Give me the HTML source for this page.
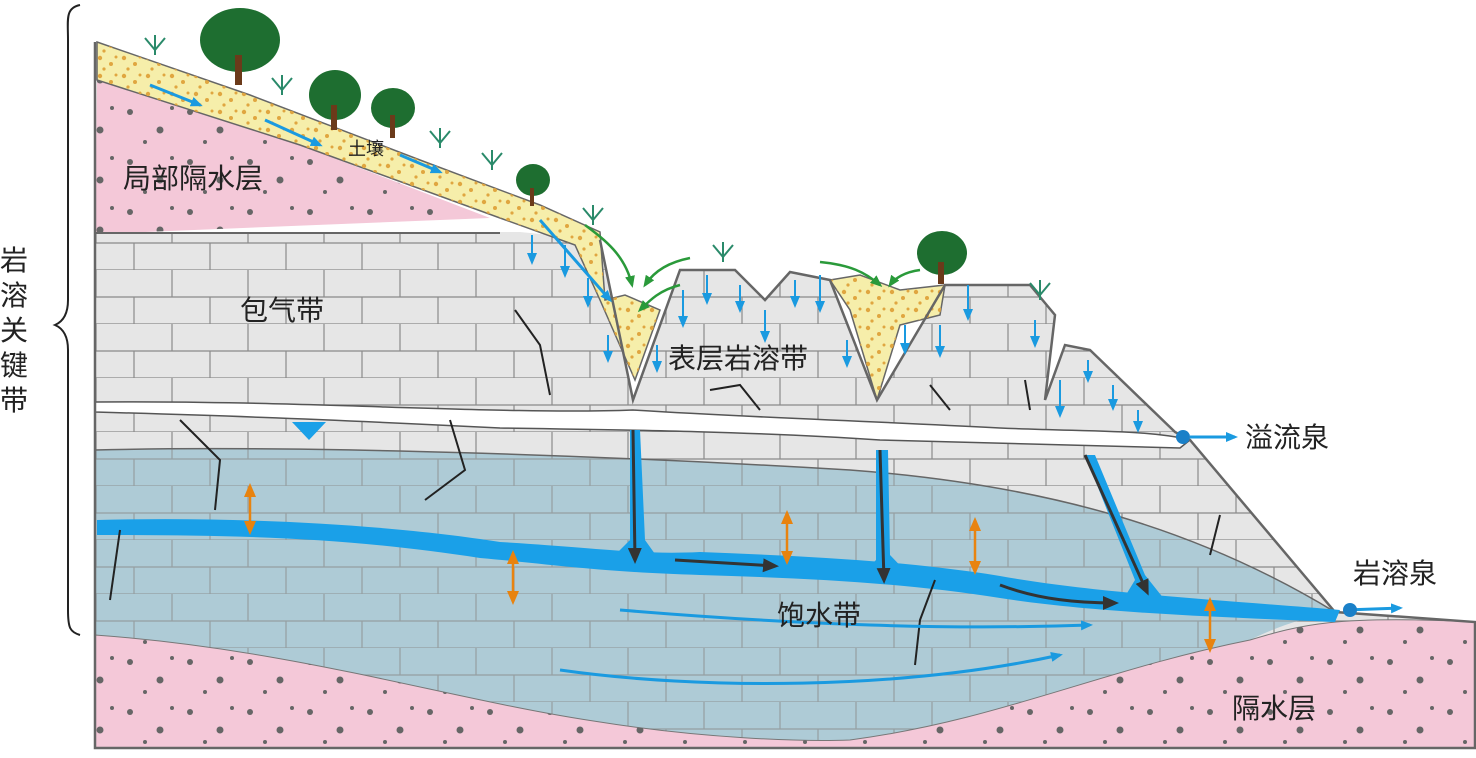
<!DOCTYPE html>
<html><head><meta charset="utf-8"><style>
html,body{margin:0;padding:0;background:#fff;}
svg{display:block}
text{font-family:"Liberation Sans","Noto Sans CJK SC",sans-serif;}
</style></head><body>
<svg width="1476" height="758" viewBox="0 0 1476 758" xmlns="http://www.w3.org/2000/svg">
<defs>
<pattern id="brk" x="0" y="0" width="76" height="54" patternUnits="userSpaceOnUse">
<path d="M0 27H76M0 54H76M20 0V27M58 27V54" stroke="#8a8a8a" stroke-width="1.2" fill="none"/>
</pattern>
<pattern id="dots" width="60" height="50" patternUnits="userSpaceOnUse">
<circle cx="10" cy="12" r="3" fill="#666"/><circle cx="40" cy="30" r="3.5" fill="#666"/><circle cx="25" cy="42" r="2" fill="#666"/><circle cx="52" cy="8" r="2" fill="#666"/>
</pattern>
<pattern id="sand" width="24" height="18" patternUnits="userSpaceOnUse">
<circle cx="4" cy="4" r="2.2" fill="#e0a640"/><circle cx="15" cy="10" r="2" fill="#e0a640"/><circle cx="8" cy="15" r="1.6" fill="#e0a640"/><circle cx="20" cy="3" r="1.5" fill="#e0a640"/>
</pattern>
<marker id="ab" markerWidth="12" markerHeight="10" refX="9" refY="5" orient="auto" markerUnits="userSpaceOnUse"><path d="M0,0L12,5L0,10z" fill="#1a9ae0"/></marker>
<marker id="ag" markerWidth="12" markerHeight="10" refX="9" refY="5" orient="auto" markerUnits="userSpaceOnUse"><path d="M0,0L12,5L0,10z" fill="#2a9a3a"/></marker>
<marker id="ak" markerWidth="16" markerHeight="14" refX="12" refY="7" orient="auto" markerUnits="userSpaceOnUse"><path d="M0,0L16,7L0,14z" fill="#333"/></marker>
<marker id="ao" markerWidth="14" markerHeight="12" refX="11" refY="6" orient="auto-start-reverse" markerUnits="userSpaceOnUse"><path d="M0,0L14,6L0,12z" fill="#e8830f"/></marker>
</defs>
<path d="M95 232 L520 232 L600 240 L633 400 L680 270 L735 270 L765 300 L790 272 L830 280 L877 400 L945 285 L1030 285 L1055 315 L1045 400 L1065 345 L1090 350 L1175 432 L1190 440 L1335 612 L1475 622 L1475 748 L95 748 Z" fill="#e6e6e6"/>
<path d="M95 232 L520 232 L600 240 L633 400 L680 270 L735 270 L765 300 L790 272 L830 280 L877 400 L945 285 L1030 285 L1055 315 L1045 400 L1065 345 L1090 350 L1175 432 L1190 440 L1335 612 L1475 622 L1475 748 L95 748 Z" fill="url(#brk)"/>
<path d="M95 450 C300 445 600 455 850 470 C1050 485 1200 530 1335 612 C1300 618 1270 630 1250 640 C1100 670 1000 720 850 740 C800 742 700 738 600 722 C450 700 300 650 95 635 Z" fill="#aecbd6"/>
<path d="M95 450 C300 445 600 455 850 470 C1050 485 1200 530 1335 612 C1300 618 1270 630 1250 640 C1100 670 1000 720 850 740 C800 742 700 738 600 722 C450 700 300 650 95 635 Z" fill="url(#brk)" opacity="0.7"/>
<path d="M95 450 C300 445 600 455 850 470 C1050 485 1200 530 1335 612" fill="none" stroke="#666" stroke-width="1.5"/>
<path d="M95 635 C300 650 450 700 600 722 C700 738 800 742 850 740 C1000 720 1100 670 1250 640 C1300 625 1335 615 1475 622 L1475 748 L95 748 Z" fill="#f4c8d8" stroke="#777" stroke-width="1"/>
<path d="M95 635 C300 650 450 700 600 722 C700 738 800 742 850 740 C1000 720 1100 670 1250 640 C1300 625 1335 615 1475 622 L1475 748 L95 748 Z" fill="url(#dots)"/>
<path d="M97 80 L300 145 L490 218 L95 234 Z" fill="#f4c8d8"/>
<path d="M97 80 L300 145 L490 218 L95 234 Z" fill="url(#dots)"/>
<path d="M97 42 L250 95 L420 160 L540 205 L600 232 L605 300 L625 295 L660 310 L635 380 L600 300 L575 245 L500 218 L300 145 L97 80 Z" fill="#f6eeaa" stroke="#666" stroke-width="1.5"/>
<path d="M97 42 L250 95 L420 160 L540 205 L600 232 L605 300 L625 295 L660 310 L635 380 L600 300 L575 245 L500 218 L300 145 L97 80 Z" fill="url(#sand)"/>
<path d="M830 280 L860 275 L900 290 L945 285 L940 315 L900 325 L877 400 L850 310 Z" fill="#f6eeaa" stroke="#666" stroke-width="1.5"/>
<path d="M830 280 L860 275 L900 290 L945 285 L940 315 L900 325 L877 400 L850 310 Z" fill="url(#sand)"/>
<path d="M95 402 C300 400 500 415 633 410 C760 418 850 420 1000 428 C1100 432 1150 430 1190 440 L1180 448 C1100 445 1000 443 880 440 C760 432 640 430 500 428 C300 418 200 415 95 412 Z" fill="#fff" stroke="#555" stroke-width="1.5"/>
<path d="M95 42 V748 H1475 V622 L1335 612 L1190 440 L1175 432 L1090 350 L1065 345 L1045 400 L1055 315 L1030 285 L945 285 L877 400 L830 280 L790 272 L765 300 L735 270 L680 270 L633 400 L600 240" fill="none" stroke="#666" stroke-width="2.5"/>
<path d="M95 233 H500" stroke="#666" stroke-width="2"/>
<path d="M97 520 C250 516 400 526 500 542 C600 548 640 555 700 552 C800 556 900 560 1000 576 C1100 594 1250 602 1340 610 L1335 622 C1250 618 1100 614 1000 598 C900 582 800 578 700 575 C600 572 550 564 480 558 C350 538 250 535 97 535 Z" fill="#1aa0e8"/>
<path d="M630 430 L630 540 L605 565 L665 568 L645 540 L640 430Z M876 450 L876 560 L858 578 L912 578 L890 555 L888 450Z M1085 455 L1135 580 L1118 608 L1168 604 L1145 575 L1095 455Z" fill="#1aa0e8"/>
<g stroke="#333" stroke-width="3" fill="none" marker-end="url(#ak)">
<path d="M633 430 L635 560"/><path d="M880 450 L884 580"/><path d="M1085 455 L1147 592"/>
<path d="M675 560 L775 566"/><path d="M1000 585 C1040 600 1080 603 1115 603"/>
</g>
<g stroke="#222" stroke-width="2" fill="none">
<path d="M180 420 L220 460 L215 510"/><path d="M450 420 L465 470 L425 500"/><path d="M515 310 L540 345 L550 395"/>
<path d="M120 530 L110 600"/><path d="M710 390 L740 385 L760 410"/><path d="M930 385 L950 410"/>
<path d="M935 580 L920 620 L915 665"/><path d="M1025 380 L1030 410"/><path d="M1220 515 L1210 555"/>
</g>
<g stroke="#1a9ae0" stroke-width="3" fill="none" marker-end="url(#ab)">
<path d="M620 610 C800 625 950 630 1090 625"/><path d="M560 670 C700 690 900 690 1060 655"/>
<path d="M150 85 L200 105"/><path d="M265 120 L320 145"/><path d="M400 155 L440 172"/><path d="M540 220 L610 300"/>
<path d="M1190 437 L1235 437"/><path d="M1345 610 L1400 608"/>
</g>
<g stroke="#1a9ae0" stroke-width="2" fill="none" marker-end="url(#ab)">
<path d="M532 235V262"/><path d="M565 245V275"/><path d="M588 278V305"/><path d="M608 335V360"/><path d="M657 345V370"/>
<path d="M683 290V325"/><path d="M707 275V302"/><path d="M740 285V310"/><path d="M765 310V340"/><path d="M795 280V305"/><path d="M820 275V310"/><path d="M847 340V365"/>
<path d="M905 325V352"/><path d="M940 325V355"/><path d="M968 285V318"/><path d="M1035 320V345"/><path d="M1060 380V415"/><path d="M1088 360V380"/><path d="M1113 385V408"/><path d="M1138 410V430"/>
</g>
<g stroke="#2a9a3a" stroke-width="2.5" fill="none" marker-end="url(#ag)">
<path d="M585 225 C605 240 625 255 632 285"/><path d="M690 258 C670 262 655 270 645 285"/><path d="M680 285 C660 290 650 300 640 310"/>
<path d="M820 262 C850 265 865 272 880 285"/><path d="M920 270 C905 272 895 278 890 285"/>
</g>
<g stroke="#e8830f" stroke-width="2.5" fill="none" marker-end="url(#ao)" marker-start="url(#ao)">
<path d="M250 486 V532"/><path d="M513 553V602"/><path d="M787 513V562"/><path d="M975 520V572"/><path d="M1210 600V650"/>
</g>
<polygon points="292,422 326,422 309,440" fill="#1aa0e8"/>
<circle cx="1183" cy="437" r="7" fill="#1a80c8"/><circle cx="1350" cy="610" r="7" fill="#1a80c8"/>
<g fill="#1e6e30">
<ellipse cx="240" cy="40" rx="40" ry="32"/><rect x="235" y="55" width="7" height="30" fill="#6b3a1a"/>
<ellipse cx="335" cy="95" rx="26" ry="25"/><rect x="331" y="105" width="6" height="25" fill="#6b3a1a"/>
<ellipse cx="393" cy="108" rx="22" ry="20"/><rect x="390" y="115" width="5" height="23" fill="#6b3a1a"/>
<ellipse cx="533" cy="180" rx="17" ry="16"/><rect x="530" y="188" width="4" height="18" fill="#6b3a1a"/>
<ellipse cx="942" cy="253" rx="25" ry="22"/><rect x="938" y="262" width="6" height="22" fill="#6b3a1a"/>
</g>
<g stroke="#2a8a6a" stroke-width="2" fill="none">
<path d="M155 55V35M155 50L145 38M155 50L165 38"/><path d="M282 95V75M282 90L272 78M282 90L292 78"/>
<path d="M440 148V128M440 143L430 131M440 143L450 131"/><path d="M492 170V150M492 165L482 153M492 165L502 153"/>
<path d="M593 225V205M593 220L583 208M593 220L603 208"/><path d="M723 262V242M723 257L713 245M723 257L733 245"/>
<path d="M1040 300V280M1040 295L1030 283M1040 295L1050 283"/>
</g>
<path d="M80 5 C65 8 68 20 68 40 L68 300 C68 315 62 322 55 325 C62 328 68 335 68 350 L68 610 C68 628 70 632 80 635" fill="none" stroke="#222" stroke-width="2"/>
<g font-size="28" fill="#222">
<text x="0" y="270">岩</text><text x="0" y="305">溶</text><text x="0" y="340">关</text><text x="0" y="375">键</text><text x="0" y="410">带</text>
<text x="123" y="188">局部隔水层</text>
<text x="240" y="320">包气带</text>
<text x="668" y="368">表层岩溶带</text>
<text x="1245" y="447">溢流泉</text>
<text x="1353" y="583">岩溶泉</text>
<text x="777" y="625">饱水带</text>
<text x="1232" y="718">隔水层</text>
</g>
<text x="348" y="155" font-size="18" fill="#222">土壤</text>
</svg>
</body></html>
